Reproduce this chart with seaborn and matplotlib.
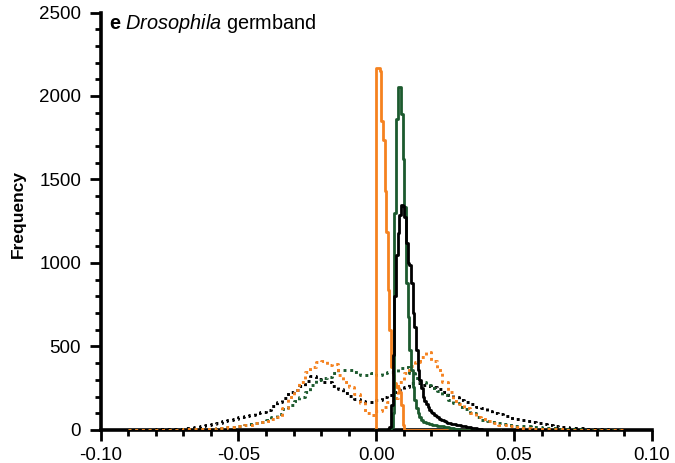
import numpy as np
import pandas as pd
import matplotlib
matplotlib.use("Agg")
import matplotlib.pyplot as plt
import seaborn as sns

# ---------------- data ----------------
# solid histograms: bins of width 0.0006 starting at -0.0006 (76 bins)
solid_bin_width = 0.0006
solid_first_edge = -0.0006
orange_solid = [0, 2167, 2167, 2150, 1852, 1736, 1434, 1185, 836, 597,
                378, 330, 280, 259, 250, 230, 150, 30, 0, 0,
                0, 0, 0, 0, 0, 0, 0, 0, 0, 0,
                0, 0, 0, 0, 0, 0, 0, 0, 0, 0,
                0, 0, 0, 0, 0, 0, 0, 0, 0, 0,
                0, 0, 0, 0, 0, 0, 0, 0, 0, 0,
                0, 0, 0, 0, 0, 0, 0, 0, 0, 0,
                0, 0, 0, 0, 0, 0]
green_solid = [0, 0, 0, 0, 0, 0, 0, 0, 0, 0,
               20, 100, 1300, 1860, 2055, 2055, 1893, 1625, 1334, 878,
               677, 478, 360, 260, 179, 130, 100, 75, 60, 50,
               45, 42, 40, 38, 35, 32, 30, 28, 26, 24,
               22, 21, 20, 18, 16, 14, 12, 10, 8, 6,
               4, 2, 0, 0, 0, 0, 0, 0, 0, 0,
               0, 0, 0, 0, 0, 0, 0, 0, 0, 0,
               0, 0, 0, 0, 0, 0]
black_solid = [0, 0, 0, 0, 0, 0, 0, 0, 5, 20,
               150, 450, 800, 1050, 1180, 1290, 1350, 1340, 1274, 1117,
               997, 990, 878, 699, 617, 478, 358, 300, 250, 199,
               175, 155, 140, 120, 110, 100, 92, 85, 75, 68,
               62, 58, 52, 48, 44, 41, 38, 35, 33, 31,
               29, 27, 25, 23, 21, 19, 17, 15, 13, 11,
               12, 10, 8, 6, 4, 2, 0, 0, 0, 0,
               0, 0, 0, 0, 0, 0]

# dotted histograms: bins of width 0.002 from -0.09 to 0.09 (90 bins)
dotted_bin_width = 0.002
dotted_first_edge = -0.09
orange_dotted = [0, 0, 0, 0, 1, 1, 1, 1, 2, 2,
                 3, 3, 4, 5, 6, 7, 10, 13, 16, 20,
                 25, 30, 32, 40, 48, 55, 66, 80, 130, 195,
                 240, 285, 345, 375, 405, 412, 390, 395, 330, 290,
                 255, 215, 160, 100, 90, 115, 140, 165, 190, 290,
                 340, 385, 405, 440, 465, 415, 360, 290, 225, 175,
                 155, 130, 100, 80, 68, 52, 42, 32, 27, 22,
                 18, 14, 10, 8, 6, 5, 4, 3, 3, 2,
                 2, 1, 1, 1, 0, 0, 0, 0, 0, 0]
green_dotted = [0, 0, 0, 0, 0, 1, 1, 1, 2, 2,
                3, 4, 5, 6, 7, 8, 10, 12, 15, 18,
                22, 27, 33, 40, 48, 58, 75, 95, 125, 150,
                175, 200, 230, 270, 300, 310, 320, 340, 358, 358,
                358, 348, 330, 328, 339, 328, 340, 348, 345, 370,
                375, 340, 310, 285, 270, 250, 235, 210, 180, 160,
                140, 125, 100, 80, 60, 52, 45, 40, 35, 30,
                26, 24, 22, 20, 17, 14, 12, 10, 8, 6,
                5, 4, 3, 2, 2, 1, 1, 0, 0, 0]
black_dotted = [0, 1, 1, 2, 2, 3, 4, 5, 6, 8,
                10, 13, 17, 22, 28, 35, 44, 54, 62, 68,
                78, 85, 92, 100, 108, 118, 145, 170, 190, 225,
                239, 265, 295, 325, 305, 289, 285, 265, 245, 222,
                205, 185, 172, 165, 168, 180, 195, 209, 225, 240,
                260, 279, 280, 272, 262, 255, 245, 225, 210, 198,
                182, 165, 155, 140, 130, 115, 103, 95, 85, 72,
                65, 58, 52, 46, 40, 34, 28, 24, 20, 17,
                14, 11, 9, 7, 5, 4, 3, 2, 1, 0]

x_ticks = [-0.10, -0.05, 0.00, 0.05, 0.10]
x_tick_labels = ["-0.10", "-0.05", "0.00", "0.05", "0.10"]
y_ticks = [0, 500, 1000, 1500, 2000, 2500]

ORANGE = "#F5821F"
GREEN = "#1C5A2E"
BLACK = "#000000"

# ---------------- style ----------------
sns.set_theme(style="white")
plt.rcParams["font.family"] = ["Liberation Sans", "DejaVu Sans"]
plt.rcParams["mathtext.fontset"] = "custom"
plt.rcParams["mathtext.rm"] = "Liberation Sans"
plt.rcParams["mathtext.it"] = "Liberation Sans:italic"
plt.rcParams["mathtext.bf"] = "Liberation Sans:bold"

fig = plt.figure(figsize=(6.75, 4.63), dpi=100)
ax = fig.add_axes([0.1489, 0.0713, 0.8170, 0.9017])


def make_bins(first_edge, width, n):
    edges = np.round(first_edge + width * np.arange(n + 1), 7)
    centers = edges[:-1] + width / 2
    return edges, centers


d_edges, d_centers = make_bins(dotted_first_edge, dotted_bin_width, len(orange_dotted))
s_edges, s_centers = make_bins(solid_first_edge, solid_bin_width, len(orange_solid))

dotted_style = dict(linestyle=(0, (1.0, 1.3)), linewidth=2.1)
for vals, col in [(black_dotted, BLACK), (green_dotted, GREEN), (orange_dotted, ORANGE)]:
    df = pd.DataFrame({"x": d_centers, "count": vals})
    sns.histplot(data=df, x="x", weights="count", bins=list(d_edges), element="step",
                 fill=False, color=col, ax=ax, **dotted_style)

for vals, col in [(orange_solid, ORANGE), (green_solid, GREEN), (black_solid, BLACK)]:
    df = pd.DataFrame({"x": s_centers, "count": vals})
    sns.histplot(data=df, x="x", weights="count", bins=list(s_edges), element="step",
                 fill=False, color=col, linewidth=2.0, ax=ax)

ax.set_xlim(-0.10, 0.10)
ax.set_ylim(0, 2500)
ax.set_xticks(x_ticks)
ax.set_xticklabels(x_tick_labels)
ax.set_yticks(y_ticks)
ax.set_xticks(np.round(np.arange(-0.10, 0.1001, 0.01), 3), minor=True)
ax.set_yticks(np.arange(0, 2501, 100), minor=True)

for side in ["top", "right"]:
    ax.spines[side].set_visible(False)
for side in ["left", "bottom"]:
    ax.spines[side].set_linewidth(2.6)
    ax.spines[side].set_color("black")
    ax.spines[side].set_zorder(1)

ax.tick_params(axis="both", which="major", direction="out", length=8, width=2.0,
               color="black", labelsize=13.5, labelcolor="black")
ax.tick_params(axis="both", which="minor", direction="out", length=4.5, width=2.0,
               color="black")
ax.tick_params(axis="y", which="major", pad=6)
ax.tick_params(axis="x", which="major", pad=4)
ax.tick_params(left=True, bottom=True, which="both")

ax.set_xlabel("")
ax.set_ylabel("Frequency", fontsize=12.5, fontweight="bold", color="black")
ax.yaxis.set_label_coords(-0.136, 0.517)
ax.grid(False)

fig.text(109 / 675, 1 - 29 / 463, r"$\mathbf{e}$ $\mathit{Drosophila}$ germband",
         fontsize=14.3, ha="left", va="baseline", color="black")

fig.savefig("out.png", dpi=100)
